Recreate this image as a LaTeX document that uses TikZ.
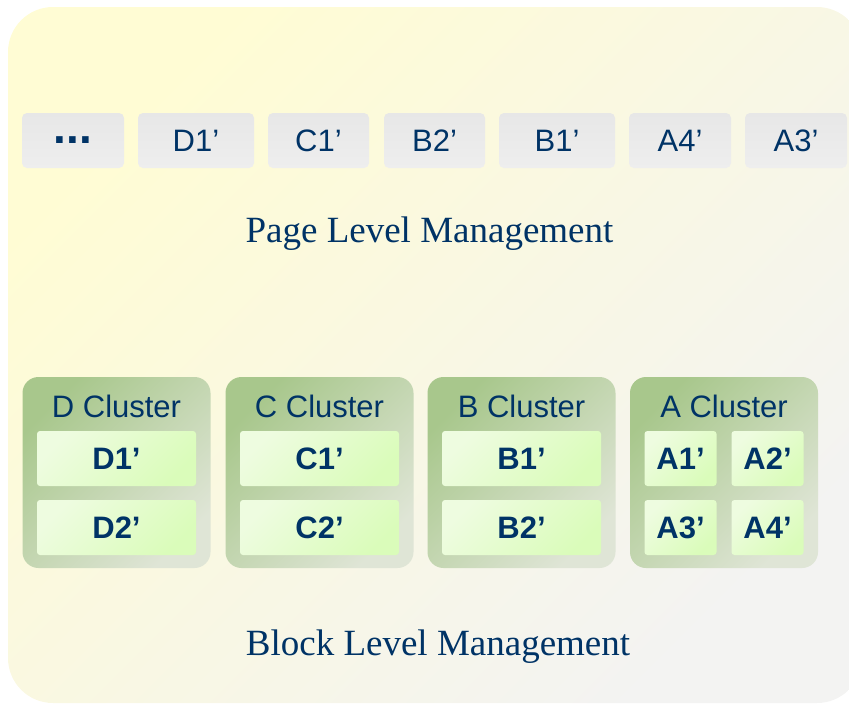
\documentclass[tikz,border=0pt]{standalone}
\usepackage{fontspec}
\setmainfont{Liberation Serif}
\setsansfont{Liberation Sans}

\definecolor{navy}{RGB}{0,51,102}
\definecolor{bgyellow}{RGB}{255,252,212}
\definecolor{bggray}{RGB}{243,243,242}
\definecolor{pagetop}{RGB}{231,231,231}
\definecolor{pagebottom}{RGB}{238,238,238}
\definecolor{clusterdark}{RGB}{168,199,140}
\definecolor{clusterlight}{RGB}{223,229,214}
\definecolor{blocklight}{RGB}{238,252,224}
\definecolor{blockdark}{RGB}{218,252,186}

\tikzset{
  pagebox/.style={rounded corners=5pt, top color=pagetop, bottom color=pagebottom,
    minimum width=#1, minimum height=55pt, inner sep=0pt, text=navy,
    font=\sffamily\fontsize{31}{31}\selectfont},
  clusterbox/.style={rounded corners=16pt, top color=clusterdark, bottom color=clusterlight,
    shading angle=45, minimum width=188pt, minimum height=191pt, inner sep=0pt},
  blockbox/.style={rounded corners=3pt, top color=blocklight, bottom color=blockdark,
    shading angle=45, minimum width=#1, minimum height=55pt, inner sep=0pt, text=navy,
    font=\sffamily\bfseries\fontsize{31}{31}\selectfont},
  clustertitle/.style={text=navy, inner sep=0pt, font=\sffamily\fontsize{31}{31}\selectfont},
  levellabel/.style={text=navy, inner sep=0pt, anchor=base, font=\fontsize{37}{37}\selectfont}
}

\begin{document}
\begin{tikzpicture}[x=1pt, y=-1pt]

\clip (0,0) rectangle (849,705);

% Background panel
\shade[rounded corners=45pt, top color=bgyellow, bottom color=bggray, shading angle=45]
  (8,7) rectangle (862,703);

% Page level row
\node[pagebox=102pt, font=\sffamily\bfseries\fontsize{46}{46}\selectfont] (page0) at (73,140.5) {...};
\foreach \cx/\w/\lbl [count=\i] in {196/116/D1’, 318.5/101/C1’, 434.5/101/B2’,
    557/116/B1’, 680/102/A4’, 796/102/A3’}
{
\node[pagebox=\w pt] (page\i) at (\cx,140.5) {\lbl};
}
\node[levellabel] (pagelevel) at (429.5,242) {Page Level Management};

% Clusters with two blocks
\foreach \cx/\cl in {116.5/D, 319.5/C, 521.5/B}
{
\node[clusterbox] (cluster\cl) at (\cx,472.5) {};
\node[clustertitle] (title\cl) at (\cx,406) {\cl\ Cluster};
\node[blockbox=159pt] (blk\cl1) at (\cx,458.5) {\cl1’};
\node[blockbox=159pt] (blk\cl2) at (\cx,527.5) {\cl2’};
}

% Cluster A with four blocks
\node[clusterbox] (clusterA) at (724,472.5) {};
\node[clustertitle] (titleA) at (724,406) {A Cluster};
\node[blockbox=72pt] (blkA1) at (680.5,458.5) {A1’};
\node[blockbox=72pt] (blkA2) at (767.5,458.5) {A2’};
\node[blockbox=72pt] (blkA3) at (680.5,527.5) {A3’};
\node[blockbox=72pt] (blkA4) at (767.5,527.5) {A4’};

\node[levellabel] (blocklevel) at (438,655) {Block Level Management};

\end{tikzpicture}
\end{document}
